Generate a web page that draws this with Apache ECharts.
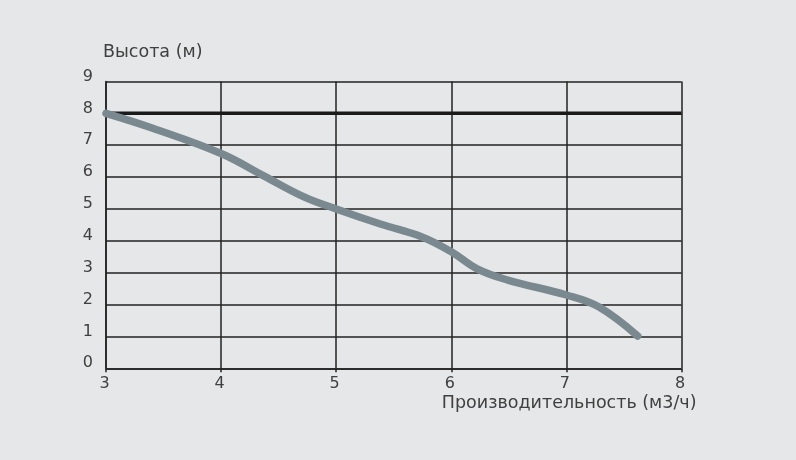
<!DOCTYPE html>
<html><head><meta charset="utf-8">
<script src="https://cdn.jsdelivr.net/npm/echarts@6/dist/echarts.min.js"></script>
<style>html,body{margin:0;padding:0;background:#e6e7e8;}#c{width:796px;height:460px;}</style>
</head><body><div id="c"></div>
<script>
const xName = 'Производительность (м3/ч)';
const yName = 'Высота (м)';
const xTicks = [3, 4, 5, 6, 7, 8];
const yTicks = [0, 1, 2, 3, 4, 5, 6, 7, 8, 9];
const flow = [3.0, 3.4, 4.0, 4.37, 4.72, 5.0, 5.39, 5.74, 6.0, 6.22, 6.49, 7.0, 7.28, 7.62];
const head = [8.0, 7.54, 6.74, 6.04, 5.38, 5.0, 4.52, 4.13, 3.66, 3.13, 2.77, 2.30, 1.93, 1.01];
const limitX = [3, 8];
const limitY = [8, 8];

const chart = echarts.init(document.getElementById('c'), null, {renderer: 'canvas'});
const font = 'DejaVu Sans';
chart.setOption({
  backgroundColor: '#e6e7e8',
  animation: false,
  grid: {left: 106, top: 81.5, right: 114.5, bottom: 91.7, containLabel: false},
  xAxis: {
    type: 'value', min: xTicks[0], max: xTicks[xTicks.length - 1], interval: 1,
    name: xName, nameLocation: 'end', nameGap: 15,
    nameTextStyle: {fontFamily: font, fontSize: 17.5, color: '#404040', align: 'right', verticalAlign: 'top', padding: [26, 0, 0, 0]},
    axisLine: {lineStyle: {color: '#222', width: 1.5}},
    axisTick: {show: true, length: 4, lineStyle: {color: '#222', width: 1.5}},
    axisLabel: {fontFamily: font, fontSize: 16, color: '#404040', margin: 8, padding: [0, 3, 0, 0]},
    splitLine: {show: true, lineStyle: {color: '#222', width: 1.5}}
  },
  yAxis: {
    type: 'value', min: yTicks[0], max: yTicks[yTicks.length - 1], interval: 1,
    name: yName, nameLocation: 'end', nameGap: 20,
    nameTextStyle: {fontFamily: font, fontSize: 17.5, color: '#404040', align: 'left', padding: [0, 0, 0, -3]},
    axisLine: {show: true, lineStyle: {color: '#222', width: 1.5}},
    axisTick: {show: false},
    axisLabel: {fontFamily: font, fontSize: 16, color: '#404040', margin: 13, verticalAlign: 'bottom', lineHeight: 10},
    splitLine: {show: true, lineStyle: {color: '#222', width: 1.5}}
  },
  series: [
    {
      type: 'line', data: limitX.map((x, i) => [x, limitY[i]]),
      symbol: 'none', lineStyle: {color: '#1a1a1a', width: 3.5}, z: 3
    },
    {
      type: 'line', smooth: 0.4, data: flow.map((x, i) => [x, head[i]]),
      symbol: 'none', lineStyle: {color: '#7a8990', width: 7.5, cap: 'round', join: 'round'}, z: 4
    }
  ]
});
</script>
</body></html>
